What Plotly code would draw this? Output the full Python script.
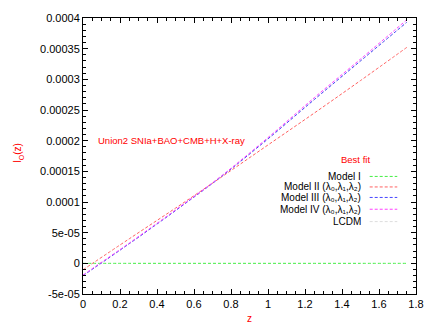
import plotly.graph_objects as go

# redshift samples and l_O(z) for each best-fit model
z = [0.0, 0.25, 0.5, 0.75, 1.0, 1.25, 1.5, 1.75]
model_1 = [0, 0, 0, 0, 0, 0, 0, 0]
model_2 = [-1.05e-05, 4.0e-05, 9.0e-05, 1.41e-04, 1.93e-04, 2.45e-04, 2.98e-04, 3.52e-04]
model_3 = [-2.0e-05, 3.2e-05, 8.6e-05, 1.42e-04, 2.03e-04, 2.67e-04, 3.30e-04, 3.93e-04]
model_4 = [-1.9e-05, 3.3e-05, 8.7e-05, 1.43e-04, 2.05e-04, 2.70e-04, 3.33e-04, 3.97e-04]
lcdm = [-2.0e-05, 3.2e-05, 8.6e-05, 1.42e-04, 2.03e-04, 2.67e-04, 3.30e-04, 3.93e-04]

names = ["Model I", "Model II (λ₀,λ₁,λ₂)", "Model III (λ₀,λ₁,λ₂)",
         "Model IV (λ₀,λ₁,λ₂)", "LCDM"]
colors = ["#44ee44", "#ff6060", "#4444ff", "#ff40ff", "#dddddd"]
series = [model_1, model_2, model_3, model_4, lcdm]

y_ticks = [-5e-05, 0, 5e-05, 1e-04, 1.5e-04, 2e-04, 2.5e-04, 3e-04, 3.5e-04, 4e-04]
y_labels = ["-5e-05", "0", "5e-05", "0.0001", "0.00015", "0.0002",
            "0.00025", "0.0003", "0.00035", "0.0004"]
x_ticks = [0, 0.2, 0.4, 0.6, 0.8, 1, 1.2, 1.4, 1.6, 1.8]

FONT = "Liberation Sans, Arial, sans-serif"
DASH = "3px,2px"

fig = go.Figure()
# draw LCDM first so the models sit on top
order = [4, 0, 1, 2, 3]
for i in order:
    fig.add_trace(go.Scatter(x=z, y=series[i], mode="lines", name=names[i],
                             line=dict(color=colors[i], width=1, dash=DASH, shape="spline"),
                             showlegend=False))

# hand-made gnuplot style key: right aligned text, sample line on the right
row_y = [174.3, 185, 195.7, 207.7, 220.3]
L, R, T, B = 83, 421, 13, 294
def px(xp): return (xp - L) / (R - L)
def py(yp): return (B - yp) / (B - T)

annotations = []
shapes = []
for i, yy in enumerate(row_y):
    annotations.append(dict(x=px(367), y=py(yy), xref="paper", yref="paper", text=names[i],
                            showarrow=False, xanchor="right", yanchor="middle",
                            font=dict(size=10, color="black", family=FONT)))
    shapes.append(dict(type="line", xref="paper", yref="paper", x0=px(374), x1=px(402),
                       y0=py(yy), y1=py(yy), line=dict(color=colors[i], width=1, dash=DASH)))

annotations += [
    dict(x=px(360), y=py(157), xref="paper", yref="paper", text="Best fit", showarrow=False,
         xanchor="center", yanchor="middle", font=dict(size=9.5, color="red", family=FONT)),
    dict(x=px(96), y=py(138), xref="paper", yref="paper", text="Union2 SNIa+BAO+CMB+H+X-ray",
         showarrow=False, xanchor="left", yanchor="middle",
         font=dict(size=9.5, color="red", family=FONT)),
    dict(x=px(17), y=py(150), xref="paper", yref="paper", text="l<sub>O</sub>(z)", showarrow=False,
         textangle=-90, xanchor="center", yanchor="middle",
         font=dict(size=10, color="red", family=FONT)),
    dict(x=px(252), y=py(319), xref="paper", yref="paper", text="z", showarrow=False,
         xanchor="center", yanchor="middle", font=dict(size=10, color="red", family=FONT)),
]

axis_common = dict(showgrid=False, zeroline=False, showline=True, linecolor="black",
                   linewidth=1, mirror="allticks", ticks="inside", ticklen=5,
                   tickcolor="black", tickfont=dict(size=11, color="black", family=FONT))
fig.update_xaxes(range=[0, 1.8], tickvals=x_ticks, ticktext=[f"{v:g}" for v in x_ticks],
                 minor=dict(ticks="inside", ticklen=3, dtick=0.05, tickcolor="black", showgrid=False),
                 **axis_common)
fig.update_yaxes(range=[-5e-05, 4e-04], tickvals=y_ticks, ticktext=y_labels,
                 minor=dict(ticks="inside", ticklen=3, dtick=1e-05, tickcolor="black", showgrid=False),
                 **axis_common)

fig.update_layout(width=436, height=327, margin=dict(l=L, r=436 - R, t=T, b=327 - B),
                  plot_bgcolor="white", paper_bgcolor="white",
                  annotations=annotations, shapes=shapes, showlegend=False)

# drop the page's default body margin so the figure sits at the window's corner
fig.write_html("out.html", config={"displayModeBar": False},
               post_script="document.body.style.margin='0px';")
